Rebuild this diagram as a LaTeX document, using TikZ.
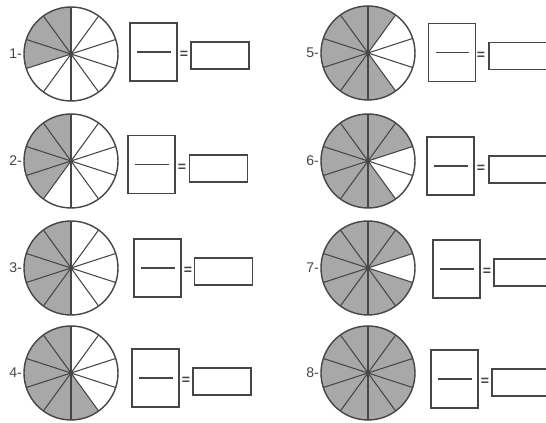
\documentclass[tikz,border=0pt]{standalone}
\usepackage{fontspec}
\setmainfont{Liberation Sans}
\usepackage{xcolor}
\usetikzlibrary{positioning}
\definecolor{inkgray}{RGB}{70,70,70}
\definecolor{hatch}{RGB}{168,168,168}

\begin{document}
\begin{tikzpicture}[
    x=0.03cm,y=0.03cm,
    wheel/.style={draw=inkgray,circle,line width=1.2pt,minimum size=2.82cm,inner sep=0pt},
    spoke/.style={draw=inkgray,line width=0.9pt},
    part/.style={fill=hatch},
    fracbox/.style={draw=inkgray,line width=1.2pt,minimum width=1.41cm,minimum height=1.74cm,inner sep=0pt},
    ansbox/.style={draw=inkgray,line width=1.2pt,minimum width=1.74cm,minimum height=0.81cm,inner sep=0pt},
    bar/.style={draw=inkgray,line width=1.1pt},
    num/.style={font=\large,text=inkgray,inner sep=0pt},
    eqsign/.style={font=\large\bfseries,text=inkgray,inner sep=0pt}
  ]
  \useasboundingbox[fill=white] (0,0) rectangle (546,423);

  % n / circle centre / fraction box / equals / answer box / shaded tenths
  \foreach \n/\cx/\cy/\fx/\fy/\ex/\ax/\ay/\parts in {
      1/71/54/153.5/52/184/220/55.5/{0,1,2},
      2/71/161/151.5/164.5/182/218.5/168.5/{0,1,2,3},
      3/71/268/157.5/268/188/223.5/271.5/{0,1,2,3,4},
      4/71/373/155.5/378/186/222/381.5/{0,1,2,3,4,5},
      5/368/53/452/52.5/481/518/56/{0,1,2,3,4,5,9},
      6/368/161/450.5/166/481/518/169.5/{0,1,2,3,4,5,8,9},
      7/368/268/456.5/269/487/523/272.5/{0,1,2,3,4,5,6,8,9},
      8/368/373/454.5/379/485/521/382.5/{0,1,2,3,4,5,6,7,8,9}} {

    \coordinate (mid\n) at (\cx,{423-\cy});

    % shaded tenths
    \foreach \i in \parts
      \fill[part] (mid\n) -- ++({90+36*\i}:47)
        arc[start angle={90+36*\i}, delta angle=36, radius=47] -- cycle;

    % ten spokes
    \foreach \a in {0,...,9}
      \draw[spoke] (mid\n) -- ++({90+36*\a}:47);

    \node[wheel] (wheel\n) at (mid\n) {};
    \fill[inkgray] (wheel\n.center) circle[radius=2.3];
    \node[num,left=1pt of wheel\n.west] (lab\n) {\n-};

    % fraction and answer boxes
    \node[fracbox] (frac\n) at (\fx,{423-\fy}) {};
    \draw[bar] ([xshift=7]frac\n.west) -- ([xshift=-6]frac\n.east);
    \node[eqsign] (eq\n) at (\ex,{423-\fy-3}) {=};
    \node[ansbox] (ans\n) at (\ax,{423-\ay}) {};
  }
\end{tikzpicture}
\end{document}
